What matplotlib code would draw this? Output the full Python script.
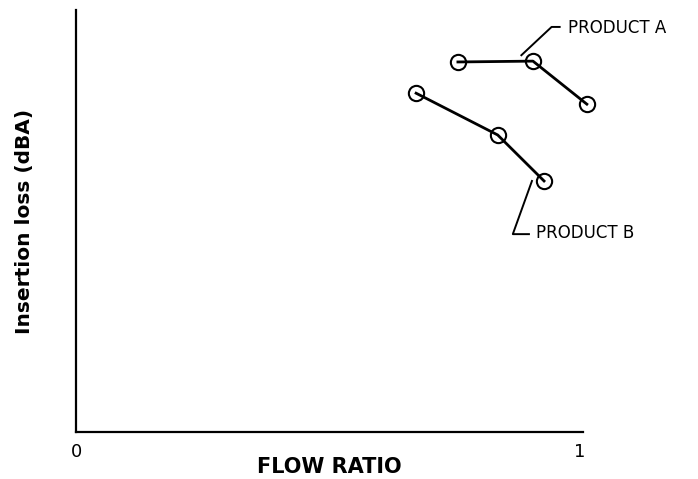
import matplotlib
matplotlib.use("Agg")
import matplotlib.pyplot as plt

## Data (flow ratio vs relative insertion loss)
flow_a = [0.758, 0.907, 1.014]
loss_a = [0.877, 0.879, 0.777]
flow_b = [0.675, 0.837, 0.929]
loss_b = [0.803, 0.704, 0.595]
x_ticks = [0, 1]
x_tick_labels = ["0", "1"]

fig = plt.figure(figsize=(6.98, 4.79), dpi=100)
ax = fig.add_axes([0.109, 0.098, 0.726, 0.881])

## Plot both products as line + open circle markers
for xs, ys in [(flow_a, loss_a), (flow_b, loss_b)]:
    ax.plot(xs, ys, color="black", lw=2.0, marker="o", ms=11,
            mfc="none", mec="black", mew=1.5, clip_on=False)

## Leader lines with labels
ax.plot([0.884, 0.944, 0.960], [0.893, 0.960, 0.960], color="black", lw=1.4, clip_on=False)
ax.text(0.976, 0.958, "PRODUCT A", fontsize=12, va="center", ha="left")
ax.plot([0.905, 0.867, 0.899], [0.595, 0.469, 0.469], color="black", lw=1.4, clip_on=False)
ax.text(0.913, 0.471, "PRODUCT B", fontsize=12, va="center", ha="left")

## Axes settings
ax.set_xlim(0, 1.006)
ax.set_ylim(0, 1)
ax.set_xticks(x_ticks)
ax.set_xticklabels(x_tick_labels, fontsize=13)
ax.set_yticks([])
ax.tick_params(axis="x", length=0, pad=8)
for side in ["top", "right"]:
    ax.spines[side].set_visible(False)
for side in ["left", "bottom"]:
    ax.spines[side].set_linewidth(1.6)
ax.set_xlabel("FLOW RATIO", fontsize=15, fontweight="bold", labelpad=-3)
ax.set_ylabel("Insertion loss (dBA)", fontsize=14.5, fontweight="bold", labelpad=30)

fig.savefig("out.png", dpi=100)
